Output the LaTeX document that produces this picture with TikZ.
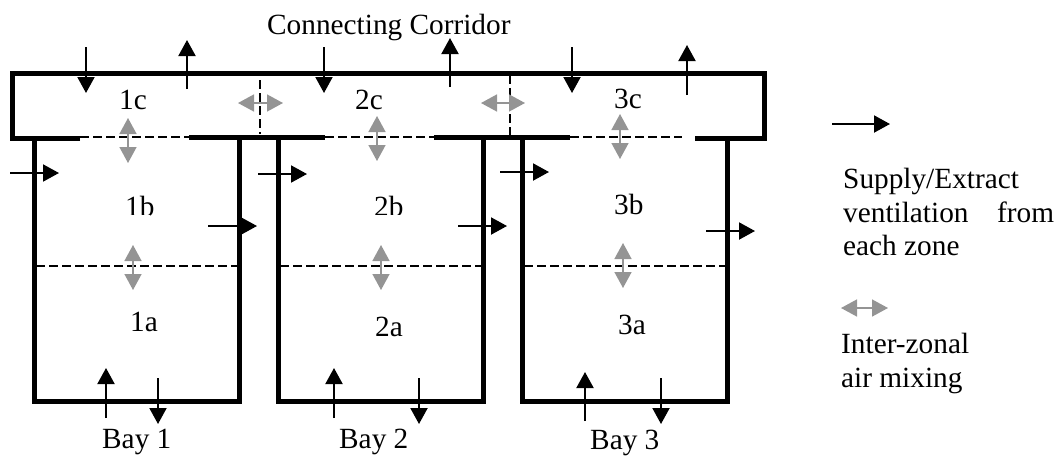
\documentclass[tikz,border=0pt]{standalone}
\usepackage{fontspec}
\setmainfont{Liberation Serif}
\usetikzlibrary{arrows.meta}
\tikzset{
  wall/.style={line width=5pt,line join=miter,line cap=butt,black},
  zone/.style={line width=1.7pt,dash pattern=on 8.5pt off 4.5pt},
  flow/.style={line width=2pt,-{Triangle[length=16pt,width=17pt]}},
  mix/.style={line width=1.5pt,black!42,{Triangle[length=16pt,width=17pt]}-{Triangle[length=16pt,width=17pt]}},
  lab/.style={inner sep=0pt,anchor=base west,font=\fontsize{29.3}{29.3}\selectfont},
}
\begin{document}
\begin{tikzpicture}[x=1pt,y=-1pt]
\useasboundingbox (0,0) rectangle (1057,456);
% labels
\node[lab] (title) at (267,34) {Connecting Corridor};
\node[lab] (z1c) at (119,109) {1c};
\node[lab] (z2c) at (355,109) {2c};
\node[lab] (z3c) at (614,108) {3c};
\node[lab] (z1b) at (125,216) {1b};
\node[lab] (z2b) at (374,216) {2b};
\fill[white] (120,214.5) rectangle (150,224);
\fill[white] (370,214.5) rectangle (400,224);
\node[lab] (z3b) at (614,214) {3b};
\node[lab] (z1a) at (130,331) {1a};
\node[lab] (z2a) at (375,336) {2a};
\node[lab] (z3a) at (618,334) {3a};
\node[lab] (bay1) at (102,448) {Bay 1};
\node[lab] (bay2) at (339,448) {Bay 2};
\node[lab] (bay3) at (590,449.5) {Bay 3};
\node[lab] (l1) at (843,188) {Supply/Extract};
\node[lab] (l2) at (843,222) {ventilation};
\node[lab] (l2b) at (997,222) {from};
\node[lab] (l3) at (843,255) {each zone};
\node[lab] (l4) at (841,353) {Inter-zonal};
\node[lab] (l5) at (841,387) {air mixing};
% zone divisions
\draw[zone] (80,137) -- (189,137);
\draw[zone] (325,137) -- (434,137);
\draw[zone] (570,137) -- (682,137);
\draw[zone] (260,80) -- (260,134);
\draw[zone] (510,75) -- (510,135);
\draw[zone] (36,266) -- (237,266);
\draw[zone] (280,266) -- (481,266);
\draw[zone] (524,266) -- (725,266);
% walls
\draw[wall] (80,138) -- (12,138) -- (12,73) -- (764,73) -- (764,138) -- (695,138);
\draw[wall] (189,137) -- (325,137);
\draw[wall] (434,137) -- (570,137);
\draw[wall] (34,138) -- (34,401) -- (239,401) -- (239,137);
\draw[wall] (278,137) -- (278,401) -- (483,401) -- (483,137);
\draw[wall] (522,137) -- (522,401) -- (727,401) -- (727,138);
% supply / extract arrows
\draw[flow] (86,47) -- (86,93);
\draw[flow] (187,89) -- (187,40);
\draw[flow] (324,47) -- (324,93);
\draw[flow] (450,87) -- (450,38);
\draw[flow] (572,47) -- (572,93);
\draw[flow] (687,95) -- (687,45);
\draw[flow] (10,173) -- (59,173);
\draw[flow] (258,174) -- (307,174);
\draw[flow] (500,172) -- (549,172);
\draw[flow] (208,226) -- (257,226);
\draw[flow] (458,226) -- (507,226);
\draw[flow] (706,231) -- (755,231);
\draw[flow] (106,418) -- (106,368);
\draw[flow] (158,378) -- (158,424);
\draw[flow] (334,418) -- (334,368);
\draw[flow] (419,378) -- (419,424);
\draw[flow] (585,421) -- (585,372);
\draw[flow] (661,378) -- (661,424);
\draw[flow] (832,124) -- (890,124);
% mixing arrows
\draw[mix] (128,118) -- (128,163);
\draw[mix] (377,116) -- (377,161);
\draw[mix] (620,114) -- (620,159);
\draw[mix] (238,103) -- (283,103);
\draw[mix] (481,103) -- (525,103);
\draw[mix] (133,245) -- (133,290);
\draw[mix] (381,245) -- (381,290);
\draw[mix] (623,243) -- (623,288);
\draw[mix] (841,308) -- (888,308);
\end{tikzpicture}
\end{document}
